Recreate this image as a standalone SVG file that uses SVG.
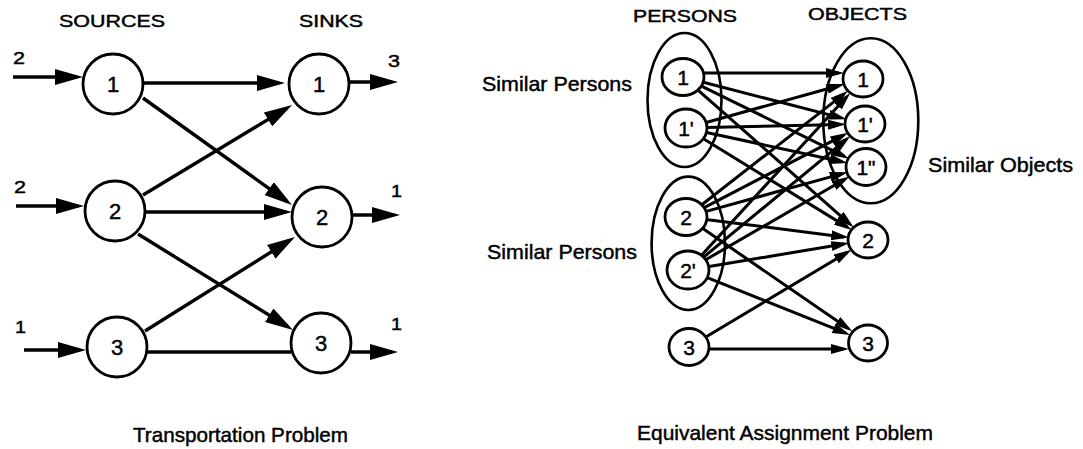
<svg xmlns="http://www.w3.org/2000/svg" width="1083" height="449" viewBox="0 0 1083 449">
<style>
text{font-family:"Liberation Sans",Arial,Helvetica,sans-serif;fill:#000;stroke:#000;stroke-width:0.45px}
.hd{font-size:17px}
.lb{font-size:21px}
.nd{font-size:22px;text-anchor:middle}
.nr{font-size:21px;text-anchor:middle}
.num{font-size:17px}
.node{fill:#fff;stroke:#000;stroke-width:2.8}
.grp{fill:none;stroke:#000;stroke-width:2.6}
.eL{fill:none;stroke:#000;stroke-width:3.4;marker-end:url(#aL)}
.eL0{fill:none;stroke:#000;stroke-width:3.4}
.eR{fill:none;stroke:#000;stroke-width:3;marker-end:url(#aR)}
.eR0{fill:none;stroke:#000;stroke-width:3}
</style>
<defs>
<marker id="aL" markerUnits="userSpaceOnUse" viewBox="0 0 28 16" markerWidth="28" markerHeight="16" refX="22" refY="8" orient="auto">
<path d="M0,0 L28,8 L0,16 z" fill="#000"/>
</marker>
<marker id="aR" markerUnits="userSpaceOnUse" viewBox="0 0 18 10" markerWidth="18" markerHeight="10" refX="12.5" refY="5" orient="auto">
<path d="M0,0 L18,5 L0,10 z" fill="#000"/>
</marker>
</defs>
<rect width="1083" height="449" fill="#fff"/>

<!-- Left: Transportation Problem -->
<text class="hd" x="59" y="27" textLength="106" lengthAdjust="spacingAndGlyphs">SOURCES</text>
<text class="hd" x="299" y="27" textLength="64" lengthAdjust="spacingAndGlyphs">SINKS</text>
<text class="num" x="13" y="64" textLength="12" lengthAdjust="spacingAndGlyphs">2</text>
<text class="num" x="14" y="193" textLength="12" lengthAdjust="spacingAndGlyphs">2</text>
<text class="num" x="15" y="333" textLength="11" lengthAdjust="spacingAndGlyphs">1</text>
<text class="num" x="388" y="67" textLength="12" lengthAdjust="spacingAndGlyphs">3</text>
<text class="num" x="391" y="197" textLength="11" lengthAdjust="spacingAndGlyphs">1</text>
<text class="num" x="391" y="330" textLength="11" lengthAdjust="spacingAndGlyphs">1</text>

<g id="connectors-left">
<line class="eL" x1="13" y1="77" x2="77" y2="77"/>
<line class="eL" x1="16" y1="206" x2="78" y2="206"/>
<line class="eL" x1="24" y1="350" x2="80" y2="350"/>
<line class="eL" x1="143" y1="83" x2="279" y2="83"/>
<line class="eL" x1="143" y1="98" x2="287.1" y2="201.5"/>
<line class="eL" x1="143" y1="195" x2="286.9" y2="108.1"/>
<line class="eL" x1="145" y1="212" x2="286" y2="212"/>
<line class="eL" x1="138" y1="234" x2="287.9" y2="326.8"/>
<line class="eL" x1="145" y1="331" x2="289.9" y2="240.2"/>
<line class="eL0" x1="147" y1="352" x2="291" y2="352"/>
<line class="eL" x1="350" y1="82" x2="392" y2="82"/>
<line class="eL" x1="352" y1="215" x2="394" y2="215"/>
<line class="eL" x1="351" y1="352" x2="392" y2="352"/>
</g>

<g id="src1"><circle class="node" cx="113" cy="84" r="30"/><text class="nd" x="113" y="92">1</text></g>
<g id="src2"><circle class="node" cx="115" cy="211" r="30"/><text class="nd" x="115" y="219">2</text></g>
<g id="src3"><circle class="node" cx="117" cy="347" r="30"/><text class="nd" x="117" y="355">3</text></g>
<g id="snk1"><circle class="node" cx="319" cy="84" r="30"/><text class="nd" x="319" y="92">1</text></g>
<g id="snk2"><circle class="node" cx="322" cy="217" r="30"/><text class="nd" x="322" y="225">2</text></g>
<g id="snk3"><circle class="node" cx="321" cy="343" r="30"/><text class="nd" x="321" y="351">3</text></g>

<text class="lb" x="133" y="442" textLength="215" lengthAdjust="spacingAndGlyphs">Transportation Problem</text>

<!-- Right: Equivalent Assignment Problem -->
<text class="hd" x="633" y="22" textLength="104" lengthAdjust="spacingAndGlyphs">PERSONS</text>
<text class="hd" x="808" y="20" textLength="99" lengthAdjust="spacingAndGlyphs">OBJECTS</text>
<text class="lb" x="482" y="91" textLength="150" lengthAdjust="spacingAndGlyphs">Similar Persons</text>
<text class="lb" x="487" y="259" textLength="150" lengthAdjust="spacingAndGlyphs">Similar Persons</text>
<text class="lb" x="928" y="172" textLength="145" lengthAdjust="spacingAndGlyphs">Similar Objects</text>

<g id="grp-persons-1"><ellipse class="grp" cx="684.5" cy="100" rx="37" ry="67"/></g>
<g id="grp-persons-2"><ellipse class="grp" cx="688.3" cy="243.3" rx="36.7" ry="66.7"/></g>
<g id="grp-objects-1"><ellipse class="grp" cx="870.8" cy="120.8" rx="47.5" ry="82.5"/></g>

<g id="connectors-right">
<line class="eR" x1="703" y1="73" x2="838.5" y2="73"/>
<line class="eR" x1="702.4" y1="82" x2="841.2" y2="117.9"/>
<line class="eR" x1="701" y1="85.8" x2="844.1" y2="156.2"/>
<line class="eR" x1="698" y1="90.2" x2="849.6" y2="223.8"/>
<line class="eR" x1="705.3" y1="122.7" x2="839.4" y2="85.5"/>
<line class="eR" x1="706" y1="127.6" x2="840.5" y2="124.5"/>
<line class="eR" x1="705.5" y1="132.2" x2="842.1" y2="161.8"/>
<line class="eR" x1="703" y1="138.5" x2="847.2" y2="227.1"/>
<line class="eR" x1="701.8" y1="204.7" x2="843.7" y2="94.1"/>
<line class="eR" x1="703.7" y1="207.8" x2="843.3" y2="135.3"/>
<line class="eR" x1="705.3" y1="211.6" x2="842.4" y2="173.6"/>
<line class="eR" x1="705.8" y1="219.5" x2="843.7" y2="236.9"/>
<line class="eR" x1="702.5" y1="228.3" x2="847.8" y2="328.2"/>
<line class="eR" x1="701.5" y1="255.3" x2="846.5" y2="97"/>
<line class="eR" x1="703.4" y1="257.3" x2="846.1" y2="139.6"/>
<line class="eR" x1="705.3" y1="260" x2="844.8" y2="179.3"/>
<line class="eR" x1="707.7" y1="266.7" x2="843.9" y2="244"/>
<line class="eR" x1="706.6" y1="277.4" x2="845.2" y2="332.9"/>
<line class="eR" x1="706.2" y1="336.7" x2="846.9" y2="252.6"/>
<line class="eR" x1="709" y1="349" x2="843.5" y2="349"/>
</g>

<g id="p1"><ellipse class="node" cx="683" cy="77" rx="21" ry="18.5"/><text class="nr" x="683" y="85">1</text></g>
<g id="p1p"><ellipse class="node" cx="686" cy="128" rx="21" ry="19"/><text class="nr" x="686" y="136">1'</text></g>
<g id="p2"><ellipse class="node" cx="686" cy="217" rx="21" ry="18.5"/><text class="nr" x="686" y="225">2</text></g>
<g id="p2p"><ellipse class="node" cx="688" cy="270" rx="21" ry="19"/><text class="nr" x="688" y="278">2'</text></g>
<g id="p3"><ellipse class="node" cx="689" cy="347" rx="20" ry="18.5"/><text class="nr" x="689" y="355">3</text></g>
<g id="o1"><ellipse class="node" cx="863" cy="79" rx="20" ry="18"/><text class="nr" x="863" y="87">1</text></g>
<g id="o1p"><ellipse class="node" cx="865" cy="124" rx="20" ry="18"/><text class="nr" x="865" y="132">1'</text></g>
<g id="o1pp"><ellipse class="node" cx="866" cy="167" rx="20" ry="18.5"/><text class="nr" x="866" y="175">1"</text></g>
<g id="o2"><ellipse class="node" cx="868" cy="240" rx="20" ry="18"/><text class="nr" x="868" y="248">2</text></g>
<g id="o3"><ellipse class="node" cx="868" cy="343" rx="19.5" ry="18"/><text class="nr" x="868" y="351">3</text></g>

<text class="lb" x="637" y="440" textLength="296" lengthAdjust="spacingAndGlyphs">Equivalent Assignment Problem</text>
</svg>
